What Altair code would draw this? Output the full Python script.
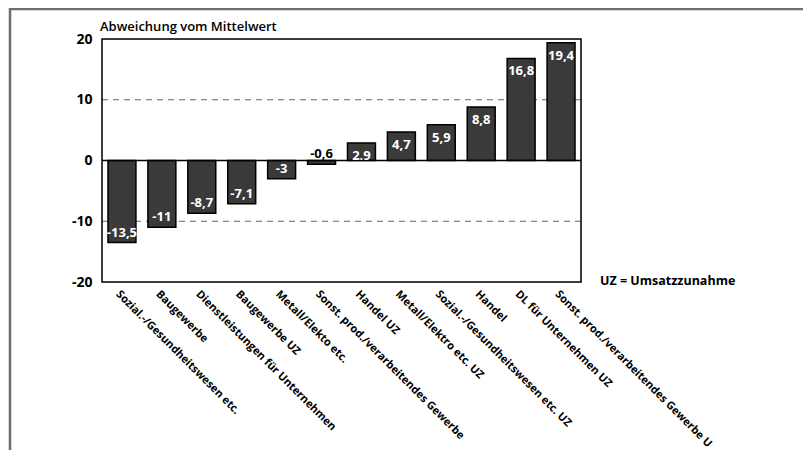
import altair as alt
import pandas as pd

categories = [
    "Sozial.-/Gesundheitswesen etc.",
    "Baugewerbe",
    "Dienstleistungen für Unternehmen",
    "Baugewerbe UZ",
    "Metall/Elekto etc.",
    "Sonst. prod./verarbeitendes Gewerbe",
    "Handel UZ",
    "Metall/Elektro etc. UZ",
    "Sozial.-/Gesundheitswesen etc. UZ",
    "Handel",
    "DL für Unternehmen UZ",
    "Sonst. prod./verarbeitendes Gewerbe U",
]
values = [-13.5, -11, -8.7, -7.1, -3, -0.6, 2.9, 4.7, 5.9, 8.8, 16.8, 19.4]
value_labels = ["-13,5", "-11", "-8,7", "-7,1", "-3", "-0,6", "2.9", "4,7", "5,9", "8,8", "16,8", "19,4"]
y_ticks = [-20, -10, 0, 10, 20]
grid_values = [-10, 10]
title_text = "Abweichung vom Mittelwert"
note_text = "UZ = Umsatzzunahme"

FONT = "Open Sans"
W, H = 479, 243

df = pd.DataFrame({"cat": categories, "val": values, "lab": value_labels})
grid_df = pd.DataFrame({"g": grid_values})
one = pd.DataFrame({"a": [0]})

xenc = alt.X(
    "cat:N", sort=categories, title=None,
    scale=alt.Scale(paddingInner=0.3, paddingOuter=0.15),
    axis=alt.Axis(labelAngle=45, labelFontSize=11, labelFontWeight="bold",
                  labelColor="black", ticks=False, domain=False, labelPadding=6,
                  labelLimit=400, labelFont=FONT, grid=False),
)
yscale = alt.Scale(domain=[-20, 20], nice=False, zero=False)
yenc = alt.Y(
    "val:Q", scale=yscale, title=None,
    axis=alt.Axis(values=y_ticks, labelFontSize=14, labelFontWeight="bold",
                  labelColor="black", ticks=False, domain=False, grid=False,
                  labelPadding=10, labelFont=FONT, labelExpr="datum.value + ''"),
)

base = alt.Chart(df)

grid = alt.Chart(grid_df).mark_rule(color="#666666", strokeDash=[6, 5], strokeWidth=1.2).encode(
    y=alt.Y("g:Q", scale=yscale)
)
zero_line = alt.Chart(one).mark_rule(color="black", strokeWidth=1.5).encode(
    y=alt.Y("a:Q", scale=yscale)
)

bars = base.mark_bar(color="#3a3a3a", stroke="black", strokeWidth=1.5).encode(
    x=xenc, y=yenc
)

pos_labels = base.transform_filter("datum.val > 0").mark_text(
    baseline="middle", align="center", dy=13, fontSize=13, fontWeight="bold",
    font=FONT, color="white"
).encode(x=alt.X("cat:N", sort=categories), y=alt.Y("val:Q", scale=yscale), text="lab:N")

neg_labels = base.transform_filter("datum.val < 0").mark_text(
    baseline="middle", align="center", dy=-10, fontSize=13, fontWeight="bold", font=FONT
).encode(
    x=alt.X("cat:N", sort=categories), y=alt.Y("val:Q", scale=yscale), text="lab:N",
    color=alt.condition("abs(datum.val) < 1", alt.value("black"), alt.value("white")),
)

note = alt.Chart(one).mark_text(
    align="left", baseline="middle", fontSize=12.5, fontWeight="bold", font=FONT, color="black"
).encode(x=alt.value(498), y=alt.value(242), text=alt.value(note_text))

title = alt.Chart(one).mark_text(
    align="left", baseline="alphabetic", fontSize=13, fontWeight=600, font=FONT,
    color="black"
).encode(x=alt.value(-2), y=alt.value(-8), text=alt.value(title_text))

border = alt.Chart(one).mark_rect(fill=None, stroke="black", strokeWidth=1.5).encode(
    x=alt.value(0), x2=alt.value(W), y=alt.value(0), y2=alt.value(H)
)

frame_left = alt.Chart(one).mark_rule(color="#6e6e6e", strokeWidth=2.5).encode(
    x=alt.value(-92), x2=alt.value(-92), y=alt.value(-31), y2=alt.value(440)
)
frame_top = alt.Chart(one).mark_rule(color="#6e6e6e", strokeWidth=2.5).encode(
    x=alt.value(-93), x2=alt.value(730), y=alt.value(-30), y2=alt.value(-30)
)

chart = alt.layer(
    grid, bars, zero_line, border, pos_labels, neg_labels, note, title, frame_left, frame_top
).properties(
    width=W, height=H,
    autosize=alt.AutoSizeParams(type="none"),
    padding={"left": 94, "top": 31, "right": 222, "bottom": 168},
).configure_view(strokeWidth=0).configure(background="white")

chart.save("out.html", embed_options={"renderer": "svg", "actions": False})
